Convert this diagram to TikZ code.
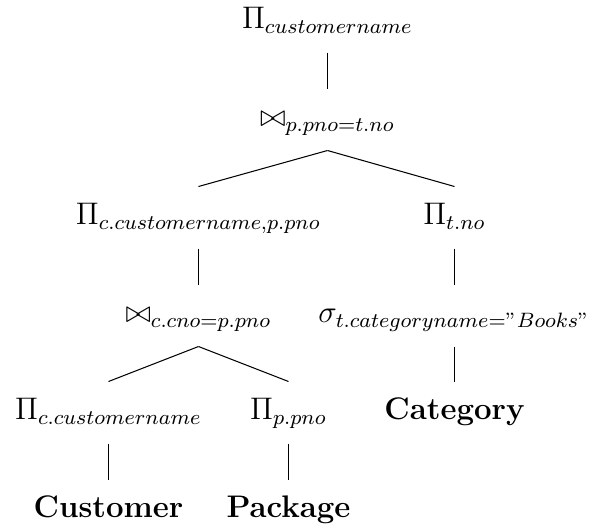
\documentclass[tikz,border=0pt,12pt]{standalone}
\begin{document}
\begin{tikzpicture}[x=0.3845pt,y=-0.3845pt,
  op/.style={inner xsep=0pt,inner ysep=6.24pt,text height=8.36pt,text depth=2.6pt,anchor=base},
  edge/.style={draw,line width=0.4pt}]
\useasboundingbox (0,0) rectangle (589,525);
% operator tree nodes, placed by their baselines
\node[op] (root) at (327.5,29)  {$\Pi_{customername}$};
\node[op] (j1)   at (327.5,127) {$\bowtie_{p.pno=t.no}$};
\node[op] (pl)   at (198.5,225) {$\Pi_{c.customername,p.pno}$};
\node[op] (pr)   at (454.5,225) {$\Pi_{t.no}$};
\node[op] (j2)   at (198.5,323) {$\bowtie_{c.cno=p.pno}$};
\node[op] (sel)  at (454.5,323) {$\sigma_{t.categoryname="Books"}$};
\node[op] (pc)   at (108.5,420) {$\Pi_{c.customername}$};
\node[op] (pp)   at (288.5,420) {$\Pi_{p.pno}$};
\node[op] (cat)  at (454.5,420) {\textbf{Category}};
\node[op] (cu)   at (108.5,518) {\textbf{Customer}};
\node[op] (pa)   at (288.5,518) {\textbf{Package}};
% connectors from parent to child
\draw[edge] (root.south) -- (j1.north);
\draw[edge] (j1.south) -- (pl.north);
\draw[edge] (j1.south) -- (pr.north);
\draw[edge] (pl.south) -- (j2.north);
\draw[edge] (pr.south) -- (sel.north);
\draw[edge] (j2.south) -- (pc.north);
\draw[edge] (j2.south) -- (pp.north);
\draw[edge] (sel.south) -- (cat.north);
\draw[edge] (pc.south) -- (cu.north);
\draw[edge] (pp.south) -- (pa.north);
\end{tikzpicture}
\end{document}
